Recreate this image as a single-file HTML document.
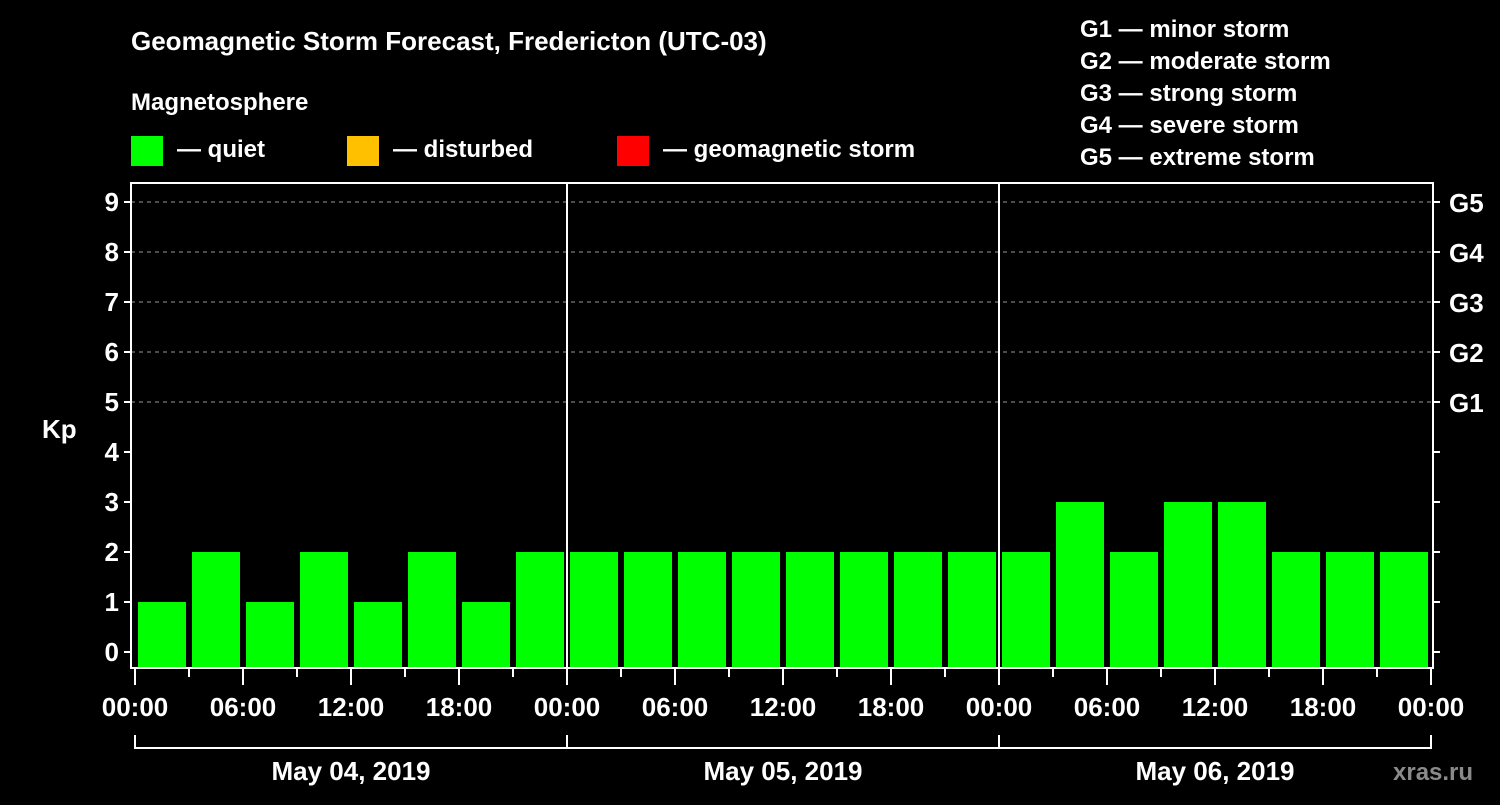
<!DOCTYPE html>
<html><head><meta charset="utf-8"><style>
body{margin:0;background:#000;}
svg text{font-family:"Liberation Sans",Arial,sans-serif;font-weight:bold;fill:#fff;}
</style></head><body>
<svg id="chart" width="1500" height="800" xmlns="http://www.w3.org/2000/svg">
<rect width="1500" height="800" fill="#000"/>
<text x="131" y="50" font-size="26">Geomagnetic Storm Forecast, Fredericton (UTC-03)</text>
<text x="131" y="110" font-size="24">Magnetosphere</text>
<g><rect x="131" y="136" width="32" height="30" fill="#00ff00"/><text x="177" y="157" font-size="24">— quiet</text></g>
<g><rect x="347" y="136" width="32" height="30" fill="#ffc000"/><text x="393" y="157" font-size="24">— disturbed</text></g>
<g><rect x="617" y="136" width="32" height="30" fill="#ff0000"/><text x="663" y="157" font-size="24">— geomagnetic storm</text></g>
<g font-size="24">
<text x="1080" y="37">G1 — minor storm</text>
<text x="1080" y="69">G2 — moderate storm</text>
<text x="1080" y="101">G3 — strong storm</text>
<text x="1080" y="133">G4 — severe storm</text>
<text x="1080" y="165">G5 — extreme storm</text>
</g>
<text x="42" y="438" font-size="26">Kp</text>
<g id="plot"></g>
<text x="1393" y="780" font-size="24" fill="#888" style="fill:#8a8a8a">xras.ru</text>
</svg>
<script>
const kpValues=[1,2,1,2,1,2,1,2, 2,2,2,2,2,2,2,2, 2,3,2,3,3,2,2,2];
const yTicks=[0,1,2,3,4,5,6,7,8,9];
const gLabels=["G1","G2","G3","G4","G5"];
const gLevels=[5,6,7,8,9];
const hourLabels=["00:00","06:00","12:00","18:00"];
const dayLabels=["May 04, 2019","May 05, 2019","May 06, 2019"];
const NS="http://www.w3.org/2000/svg";
const g=document.getElementById('plot');
const L=131,R=1433,T=183,B=668,X0=135,DAY=432;
const y=v=>652-v*50;
const x=h=>X0+h*DAY/24;
function mk(t,a,p){const e=document.createElementNS(NS,t);for(const k in a)e.setAttribute(k,a[k]);(p||g).appendChild(e);return e;}
function color(v){return v>=5?'#ff0000':v>=4?'#ffc000':'#00ff00';}
// grid
gLevels.forEach(v=>{
 const l=mk('line',{x1:L,x2:R,y1:y(v),y2:y(v),stroke:'#999','stroke-dasharray':'4,4','stroke-width':1});
 
 
});
// bars
kpValues.forEach((v,i)=>{
 const r=mk('rect',{x:x(i*3)+3,y:y(v),width:48,height:B-y(v),fill:color(v)});
 
 
});
// day separators
[1,2].forEach(d=>{
 const l=mk('line',{x1:x(d*24),x2:x(d*24),y1:T,y2:B,stroke:'#fff','stroke-width':2});
 
 
});
// frame
const f=mk('rect',{x:L,y:T,width:R-L,height:B-T,fill:'none',stroke:'#fff','stroke-width':2});


// y ticks
yTicks.forEach(v=>{
 mk('line',{x1:L-7,x2:L,y1:y(v),y2:y(v),stroke:'#fff','stroke-width':2});
 mk('line',{x1:R,x2:R+7,y1:y(v),y2:y(v),stroke:'#fff','stroke-width':2});
 const t=mk('text',{x:L-12,y:y(v)+9,'font-size':26,'text-anchor':'end'});
 t.textContent=v;
 
 
});
gLabels.forEach((s,i)=>{
 const t=mk('text',{x:1449,y:y(gLevels[i])+10,'font-size':26});
 t.textContent=s;
 
 
});
// x ticks
for(let h=0;h<=72;h+=3){
 const major=h%6===0;
 mk('line',{x1:x(h),x2:x(h),y1:B,y2:B+(major?17:9),stroke:'#fff','stroke-width':2});
 if(major){
  const t=mk('text',{x:x(h),y:716,'font-size':26,'text-anchor':'middle'});
  t.textContent=hourLabels[(h/6)%4];
  
  
 }
}
// day brackets
dayLabels.forEach((s,d)=>{
 mk('path',{d:`M${x(d*24)},735 V748 H${x(d*24+24)} V735`,fill:'none',stroke:'#fff','stroke-width':2});
 const t=mk('text',{x:x(d*24+12),y:780,'font-size':26,'text-anchor':'middle'});
 t.textContent=s;
 
 
});
</script>
</body></html>
